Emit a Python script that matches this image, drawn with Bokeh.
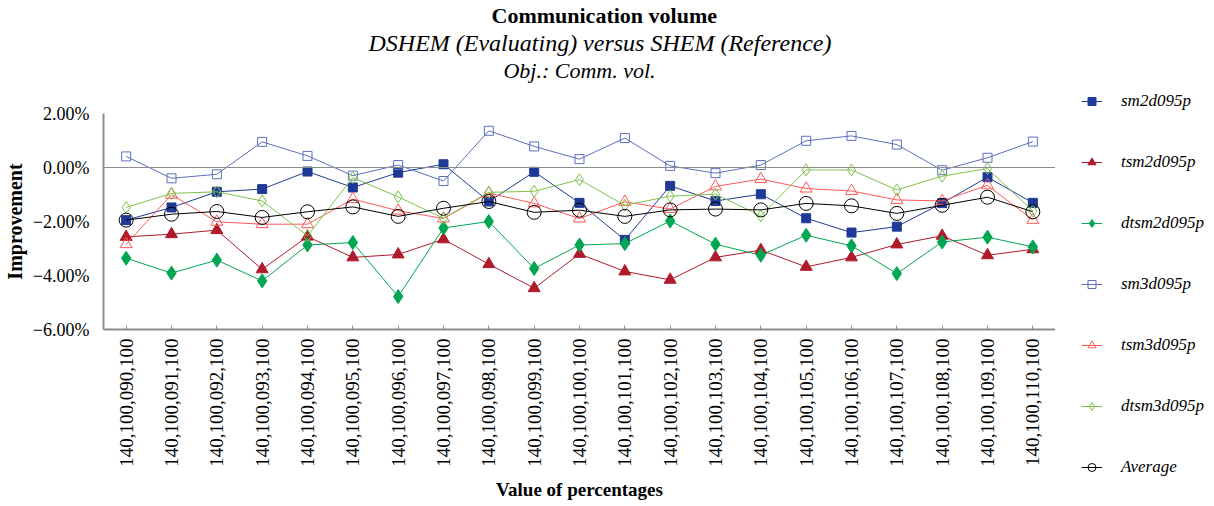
from bokeh.plotting import figure
from bokeh.models import (ColumnDataSource, FixedTicker, Span, Legend, LegendItem, Title)
from bokeh.layouts import row
from bokeh.embed import file_html
from bokeh.resources import INLINE
import math

categories = ["140,100,%03d,100" % v for v in [90, 91, 92, 93, 94, 95, 96, 97, 98, 99, 100,
                                                 101, 102, 103, 104, 105, 106, 107, 108, 109, 110]]

sm2d095p = [-1.95, -1.48, -0.90, -0.80, -0.15, -0.74, -0.19, 0.12, -1.26, -0.16, -1.31,
            -2.68, -0.68, -1.24, -0.99, -1.88, -2.41, -2.19, -1.32, -0.36, -1.31]
tsm2d095p = [-2.57, -2.47, -2.32, -3.77, -2.56, -3.33, -3.22, -2.66, -3.58, -4.47, -3.20,
             -3.85, -4.16, -3.33, -3.06, -3.68, -3.33, -2.85, -2.53, -3.25, -3.03]
dtsm2d095p = [-3.36, -3.91, -3.43, -4.20, -2.87, -2.78, -4.78, -2.24, -2.00, -3.74, -2.87,
              -2.82, -1.98, -2.84, -3.25, -2.51, -2.90, -3.93, -2.76, -2.58, -2.94]
sm3d095p = [0.41, -0.40, -0.25, 0.95, 0.43, -0.30, 0.09, -0.50, 1.36, 0.78, 0.31,
            1.09, 0.06, -0.21, 0.09, 0.99, 1.17, 0.85, -0.10, 0.36, 0.96]
tsm3d095p = [-2.84, -1.01, -2.01, -2.10, -2.10, -1.17, -1.60, -1.89, -0.95, -1.33, -1.89,
             -1.27, -1.54, -0.70, -0.43, -0.78, -0.87, -1.20, -1.24, -0.66, -1.94]
dtsm3d095p = [-1.48, -0.96, -0.90, -1.24, -2.53, -0.37, -1.09, -1.88, -0.92, -0.88, -0.45,
              -1.40, -1.06, -0.99, -1.79, -0.09, -0.09, -0.83, -0.32, -0.04, -1.61]
average = [-1.95, -1.73, -1.63, -1.85, -1.64, -1.46, -1.81, -1.51, -1.26, -1.66, -1.58,
           -1.81, -1.57, -1.54, -1.57, -1.33, -1.42, -1.70, -1.40, -1.10, -1.64]

y_ticks = [-6, -4, -2, 0, 2]
y_tick_labels = ["\u22126.00%", "\u22124.00%", "\u22122.00%", "0.00%", "2.00%"]

series = [
    ("sm2d095p", sm2d095p, "#1f3a96", "square", 9, True),
    ("tsm2d095p", tsm2d095p, "#b01b2b", "triangle", 12, True),
    ("dtsm2d095p", dtsm2d095p, "#00a651", "diamond", 14, True),
    ("sm3d095p", sm3d095p, "#5b6fbd", "square", 9, False),
    ("tsm3d095p", tsm3d095p, "#ff5a5a", "triangle", 12, False),
    ("dtsm3d095p", dtsm3d095p, "#7cc24a", "diamond", 12, False),
    ("Average", average, "#000000", "circle", 14, False),
]

SERIF = "Liberation Serif"
TOTAL_H = 498

p = figure(x_range=categories, y_range=(-6, 2), frame_width=952, frame_height=216,
           min_border_left=96, min_border_right=0, min_border_top=0, min_border_bottom=0,
           output_backend="svg", toolbar_location=None, title=None)
p.outline_line_color = None
p.xgrid.visible = False
p.ygrid.visible = False
p.x_range.range_padding = 0

# titles, stacked outward from the frame
spacer = Title(text=" ", text_font=SERIF, text_font_size="10px", standoff=18)
t3 = Title(text="Obj.: Comm. vol.", align="center", text_font=SERIF, text_font_style="italic",
           text_font_size="22px", text_color="black", standoff=0)
t2 = Title(text="DSHEM (Evaluating) versus SHEM (Reference)", align="left", offset=265,
           text_font=SERIF, text_font_style="italic", text_font_size="24px",
           text_color="black", standoff=0)
t1 = Title(text="Communication volume", align="left", offset=388, text_font=SERIF,
           text_font_style="bold", text_font_size="22px", text_color="black", standoff=0)
p.add_layout(spacer, "above")
p.add_layout(t3, "above")
p.add_layout(t2, "above")
p.add_layout(t1, "above")

p.add_layout(Span(location=0, dimension="width", line_color="#8c8c8c", line_width=1))

# legend figure (separate canvas to the right); its ranges exclude the data
lg = figure(width=150, height=TOTAL_H, x_range=categories, y_range=(10, 20),
            min_border=0, output_backend="svg", toolbar_location=None,
            x_axis_location=None, y_axis_location=None, title=None)
lg.outline_line_color = None
lg.xgrid.visible = False
lg.ygrid.visible = False

items = []
for name, vals, color, marker, size, filled in series:
    src = ColumnDataSource(dict(x=categories, y=vals))
    kw = dict(fill_color=color) if filled else dict(fill_alpha=0)
    p.line("x", "y", source=src, line_color=color, line_width=1)
    p.scatter("x", "y", source=src, marker=marker, size=size, line_color=color,
              line_width=1, **kw)
    l1 = lg.line("x", "y", source=src, line_color=color, line_width=1)
    l2 = lg.scatter("x", "y", source=src, marker=marker, size=size, line_color=color,
                    line_width=1, **kw)
    items.append(LegendItem(label=name, renderers=[l1, l2]))

legend = Legend(items=items, location=(26, -152), padding=0, margin=0, spacing=41,
                glyph_width=21, glyph_height=20, label_height=20, label_standoff=19,
                label_text_font=SERIF, label_text_font_style="italic",
                label_text_font_size="17px", label_text_color="black",
                border_line_color=None, background_fill_alpha=0)
lg.add_layout(legend, "left")

# y axis
p.yaxis.ticker = FixedTicker(ticks=y_ticks)
p.yaxis.major_label_overrides = {t: l for t, l in zip(y_ticks, y_tick_labels)}
p.yaxis.major_label_text_font = SERIF
p.yaxis.major_label_text_font_size = "18px"
p.yaxis.major_label_text_color = "black"
p.yaxis.major_tick_line_color = None
p.yaxis.minor_tick_line_color = None
p.yaxis.axis_line_color = "#8c8c8c"
p.yaxis.axis_line_width = 2
p.yaxis.major_label_standoff = 8
p.yaxis.axis_label = "Improvement"
p.yaxis.axis_label_text_font = SERIF
p.yaxis.axis_label_text_font_style = "bold"
p.yaxis.axis_label_text_font_size = "20px"
p.yaxis.axis_label_text_color = "black"
p.yaxis.axis_label_standoff = 4

# x axis
p.xaxis.major_label_orientation = math.pi / 2
p.xaxis.major_label_text_font = SERIF
p.xaxis.major_label_text_font_size = "19px"
p.xaxis.major_label_text_color = "black"
p.xaxis.major_label_standoff = 9
p.xaxis.major_tick_in = 4
p.xaxis.major_tick_out = 0
p.xaxis.major_tick_line_color = "#8c8c8c"
p.xaxis.axis_line_color = "#8c8c8c"
p.xaxis.axis_line_width = 2
p.xaxis.axis_label = "Value of percentages"
p.xaxis.axis_label_text_font = SERIF
p.xaxis.axis_label_text_font_style = "bold"
p.xaxis.axis_label_text_font_size = "19px"
p.xaxis.axis_label_text_color = "black"
p.xaxis.axis_label_standoff = 9

layout = row(p, lg, spacing=0)
open("out.html", "w").write(file_html(layout, INLINE))
